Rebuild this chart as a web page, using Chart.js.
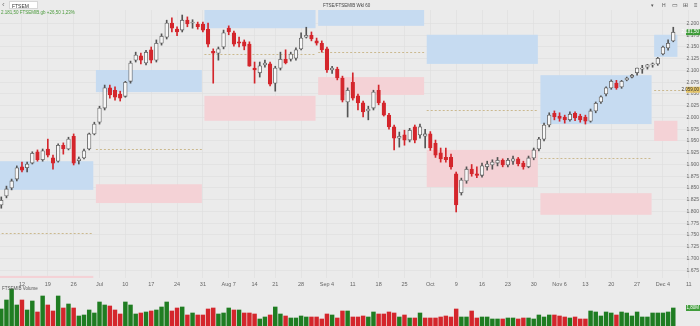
<!DOCTYPE html>
<html>
<head>
<meta charset="utf-8">
<script src="https://cdn.jsdelivr.net/npm/chart.js@4.4.0/dist/chart.umd.min.js"></script>
<style>
body{margin:0;width:700px;height:326px;overflow:hidden;background:#ebebeb;font-family:"Liberation Sans",Arial,sans-serif;position:relative}
canvas{position:absolute;left:0}
#chartPrix{top:0}
#chartVolume{top:286px}
.t{position:absolute;white-space:nowrap;line-height:1}
</style>
</head>
<body>
<canvas id="chartPrix" width="700" height="288"></canvas>
<canvas id="chartVolume" width="700" height="40"></canvas>

<div class="t" style="left:2px;top:1px;font-size:8px;color:#777">&#8249;</div>
<div class="t" style="left:9px;top:1px;width:29px;height:8px;background:#fff;border:1px solid #d6d6d6;font-size:5px;color:#333;padding:2px 0 0 2px;box-sizing:border-box">FTSEM</div>
<div class="t" style="left:1px;top:11px;font-size:4.5px;color:#4b9a3c">2.181,50 FTSEMIB.gb +26,50 1,23%</div>
<div class="t" style="left:323px;top:4px;font-size:4.5px;color:#444">FTSE/FTSEMIB Wkl 60</div>
<div class="t" style="left:651px;top:3px;font-size:5px;color:#555">&#9662;</div>
<div class="t" style="left:662px;top:3px;font-size:5px;color:#555">H</div>
<div class="t" style="left:672px;top:2px;font-size:6px;color:#555">&#9645;</div>
<div class="t" style="left:683px;top:2px;font-size:6px;color:#555">&#8862;</div>
<div class="t" style="left:694px;top:2px;font-size:6px;color:#555">&#8801;</div>
<div class="t" style="left:2px;top:287px;font-size:4.5px;color:#555">FTSEMIB Volume</div>

<script>
// données (un jour de bourse par index, du 6 juin au 6 décembre)
const ouverture = [1814,1833,1850,1869,1895,1893,1903,1927,1910,1933,
    1914,1907,1941,1933,1960,1908,1914,1933,1965,1990,
    2020,2063,2058,2050,2045,2077,2122,2131,2116,2144,
    2122,2158,2171,2201,2188,2186,2207,2201,2199,2199,
    2188,2141,2137,2150,2190,2180,2161,2161,2156,2105,
    2095,2112,2114,2073,2105,2124,2124,2126,2146,2171,
    2175,2163,2158,2146,2101,2103,2084,2033,2075,2046,
    2031,2014,2020,2058,2031,2005,1980,1956,1963,1952,
    1980,1963,1960,1965,1945,1925,1915,1915,1880,1840,
    1865,1890,1880,1877,1895,1899,1903,1909,1899,1907,
    1912,1903,1895,1914,1933,1954,1984,2009,2003,2001,
    1995,2009,2003,2001,1992,2014,2033,2050,2063,2073,
    2065,2080,2086,2095,2103,2107,2112,2114,2135,2148,2163]
const haut = [1831,1854,1869,1897,1905,1905,1927,1931,1933,1954,
    1920,1944,1946,1958,1965,1916,1933,1967,1990,2024,
    2069,2069,2065,2056,2077,2120,2139,2137,2143,2150,
    2165,2178,2207,2212,2193,2218,2214,2208,2203,2203,
    2201,2146,2150,2186,2195,2184,2171,2165,2161,2118,
    2118,2122,2118,2109,2139,2144,2139,2148,2180,2192,
    2182,2169,2163,2150,2109,2107,2088,2063,2095,2050,
    2035,2024,2058,2069,2035,2009,1984,1969,1973,1977,
    1984,1986,1975,1970,1952,1935,1935,1922,1884,1871,
    1895,1900,1895,1903,1907,1910,1915,1912,1913,1918,
    1915,1907,1918,1935,1958,1988,2010,2014,2010,2005,
    2012,2012,2007,2005,2018,2033,2046,2065,2080,2079,
    2079,2086,2092,2105,2111,2113,2116,2128,2152,2165,2192]
const bas = [1807,1829,1846,1865,1884,1884,1901,1907,1907,1916,
    1890,1905,1922,1931,1899,1901,1912,1931,1963,1986,
    2016,2041,2037,2035,2043,2073,2118,2114,2112,2116,
    2118,2154,2167,2182,2174,2182,2193,2190,2188,2182,
    2150,2073,2122,2146,2176,2152,2150,2144,2109,2073,
    2086,2107,2067,2056,2101,2114,2120,2122,2144,2169,
    2163,2154,2139,2096,2094,2080,2033,2001,2037,2016,
    2001,1995,2016,2027,2003,1975,1931,1937,1941,1948,
    1946,1956,1935,1930,1915,1905,1905,1890,1799,1835,
    1860,1875,1872,1873,1888,1890,1897,1895,1895,1900,
    1897,1890,1893,1910,1929,1950,1980,1995,1992,1988,
    1992,1993,1990,1986,1990,2010,2030,2046,2060,2060,
    2062,2078,2084,2090,2094,2103,2107,2111,2133,2143,2161]
const cloture = [1824,1848,1865,1893,1888,1901,1924,1910,1929,1920,
    1903,1941,1933,1954,1903,1912,1929,1965,1986,2020,
    2063,2048,2043,2041,2075,2116,2133,2122,2139,2122,
    2158,2173,2201,2190,2182,2207,2199,2203,2193,2186,
    2156,2137,2146,2180,2182,2156,2158,2152,2109,2101,
    2110,2116,2071,2105,2124,2116,2135,2144,2169,2175,
    2167,2158,2144,2101,2105,2084,2037,2058,2041,2031,
    2012,2018,2054,2031,2005,1980,1956,1960,1952,1973,
    1952,1980,1965,1935,1920,1912,1910,1895,1814,1867,
    1890,1880,1877,1897,1901,1905,1909,1899,1909,1912,
    1901,1895,1914,1931,1954,1984,2005,2001,1998,1995,
    2007,1999,1995,1992,2014,2030,2044,2063,2077,2063,
    2077,2084,2090,2105,2105,2112,2114,2126,2150,2158,2181.5]
// volumes en millions
const volume = [1.7,2.6,3.7,2.1,2.6,1.6,2.5,1.4,3.0,2.1,
    1.5,3.0,1.8,2.2,1.8,1.0,1.1,1.6,1.3,2.4,
    2.1,2.0,1.6,1.2,2.4,2.1,1.2,1.3,1.4,1.5,
    1.6,1.9,2.4,1.5,1.8,1.9,1.1,1.3,1.1,1.1,
    1.7,1.8,1.2,1.3,1.8,1.6,1.6,1.3,1.3,1.2,
    0.7,0.9,1.1,1.9,1.2,1.0,0.8,0.8,1.0,0.9,
    0.9,0.9,0.7,1.2,1.1,0.8,1.5,1.5,0.9,0.9,
    1.0,0.9,1.4,1.2,1.2,1.4,1.3,0.9,1.1,0.8,
    0.8,1.3,0.8,0.8,0.8,0.9,1.0,0.9,1.7,0.9,
    0.9,1.5,0.8,0.9,0.9,0.7,0.7,0.7,0.8,0.8,
    0.7,0.8,0.8,0.7,1.1,0.9,1.1,1.1,1.0,0.9,
    0.8,0.9,0.7,0.7,1.5,1.4,1.0,1.4,1.3,1.1,
    1.4,1.3,1.0,1.4,0.9,0.9,1.3,1.3,1.3,1.4,1.8]

// lundis (index du jour) et leurs étiquettes
const ticksIndex = [4,9,14,19,24,29,34,39,44,49,53,58,63,68,73,78,83,88,93,98,103,108,113,118,123,128,133]
const ticksLabels = ['12','19','26','Jul','10','17','24','31','Aug 7','14','21','28','Sep 4','11','18','25','Oct','9','16','23','30','Nov 6','13','20','27','Dec 4','11']
const graduationsPrix = [1675,1700,1725,1750,1775,1800,1825,1850,1875,1900,1925,1950,1975,2000,2025,2050,2075,2100,2125,2150,2175,2200]

// zones mensuelles
const debutMois = [0,19,40,62,83,105,127]
const finMois = [18,39,61,82,104,126,131]
const bleuHaut = [1907,2101,2240,2240,2176,2090,2176]
const bleuBas = [1846,2054,2190,2195,2114,1986,2129]
const roseHaut = [1663,1858,2046,2086,1931,1839,1993]
const roseBas = [1600,1818,1993,2048,1852,1793,1950]
const pivot = [1754,1933,2135,2139,2016,1914,2059]

const ROUGE = '#d4262c'
const VERT = '#1f7d22'

function formatPrix(v, dec){
    const ent = Math.floor(v)
    let s = Math.floor(ent/1000) + '.' + String(ent%1000).padStart(3,'0')
    if (dec) s += ',' + String(Math.round((v-ent)*100)).padStart(2,'0')
    return s
}

const jours = cloture.map((c,i) => i)
const hausse = jours.map(i => cloture[i] >= ouverture[i])

const zonesPlugin = {
    id: 'zones',
    beforeDatasetsDraw(chart){
        const {ctx, chartArea, scales: {x, y}} = chart
        ctx.save()
        ctx.beginPath()
        ctx.rect(chartArea.left, chartArea.top, chartArea.width, chartArea.height)
        ctx.clip()
        for (let m = 0; m < debutMois.length; m++){
            const x1 = x.getPixelForValue(debutMois[m] - 0.7)
            const x2 = x.getPixelForValue(finMois[m] - 0.2)
            ctx.fillStyle = '#c6dbf1'
            ctx.fillRect(x1, y.getPixelForValue(bleuHaut[m]), x2-x1, y.getPixelForValue(bleuBas[m]) - y.getPixelForValue(bleuHaut[m]))
            ctx.fillStyle = '#f4d2d6'
            ctx.fillRect(x1, y.getPixelForValue(roseHaut[m]), x2-x1, y.getPixelForValue(roseBas[m]) - y.getPixelForValue(roseHaut[m]))
            const yp = Math.round(y.getPixelForValue(pivot[m])) + 0.5
            const xf = m === debutMois.length-1 ? chartArea.right : x2
            ctx.strokeStyle = '#c3ad78'
            ctx.lineWidth = 0.8
            ctx.setLineDash([2,2])
            ctx.beginPath()
            ctx.moveTo(x1, yp)
            ctx.lineTo(xf, yp)
            ctx.stroke()
        }
        ctx.restore()
    },
    afterDraw(chart){
        const {ctx, chartArea, scales: {y}} = chart
        const etiquette = (v, fond, texte) => {
            const yy = y.getPixelForValue(v)
            ctx.fillStyle = fond
            ctx.fillRect(chartArea.right - 14, yy - 3, 14, 6)
            ctx.fillStyle = texte
            ctx.font = '4.5px "Liberation Sans"'
            ctx.textAlign = 'right'
            ctx.textBaseline = 'middle'
            ctx.fillText(formatPrix(v, true), chartArea.right - 1, yy)
        }
        etiquette(pivot[pivot.length-1], '#e6c66a', '#333')
        etiquette(cloture[cloture.length-1], '#3f9c3a', '#fff')
    }
}

// setup
const dataPrix = {
    datasets: [{
        data: jours.map(i => ({x: i, y: [bas[i], haut[i]]})),
        backgroundColor: jours.map(i => hausse[i] ? '#555' : ROUGE),
        barThickness: 1,
        grouped: false,
        order: 2
    },{
        data: jours.map(i => ({x: i, y: [ouverture[i], cloture[i]]})),
        backgroundColor: jours.map(i => hausse[i] ? '#f7f7f7' : ROUGE),
        borderColor: jours.map(i => hausse[i] ? '#5a5a5a' : ROUGE),
        borderWidth: 0.8,
        borderSkipped: false,
        minBarLength: 1,
        barThickness: 3.6,
        grouped: false,
        order: 1
    }]
}

// config
const configPrix = {
    type: 'bar',
    data: dataPrix,
    plugins: [zonesPlugin],
    options: {
        responsive: false,
        animation: false,
        layout: {padding: {top: 10}},
        plugins: {legend: {display: false}, tooltip: {enabled: false}},
        scales: {
            x: {
                type: 'linear', min: -0.25, max: 135.17, offset: false,
                afterBuildTicks: s => { s.ticks = ticksIndex.map(v => ({value: v})) },
                afterFit: s => { s.height = 10 },
                grid: {color: '#dddddd', lineWidth: 0.6, drawTicks: false, offset: false},
                border: {display: false},
                ticks: {autoSkip: false, maxRotation: 0, padding: 3, color: '#666',
                    font: {size: 5.5, family: 'Liberation Sans'},
                    callback: (v, i) => ticksLabels[i]}
            },
            y: {
                position: 'right', min: 1658.5, max: 2228.7,
                afterBuildTicks: s => { s.ticks = graduationsPrix.map(v => ({value: v})) },
                afterFit: s => { s.width = 0 },
                grid: {color: '#dddddd', lineWidth: 0.6, drawTicks: false},
                border: {display: false},
                ticks: {mirror: true, padding: -1, color: '#666',
                    font: {size: 5, family: 'Liberation Sans'},
                    callback: v => formatPrix(v)}
            }
        }
    }
}

const chartPrix = new Chart(document.getElementById('chartPrix'), configPrix)

// volumes
const volumePlugin = {
    id: 'etiquetteVolume',
    afterDraw(chart){
        const {ctx, chartArea, scales: {y}} = chart
        const v = volume[volume.length-1]
        const yy = y.getPixelForValue(v)
        ctx.fillStyle = '#3f9c3a'
        ctx.fillRect(chartArea.right - 14, yy - 3, 14, 6)
        ctx.fillStyle = '#fff'
        ctx.font = '4.5px "Liberation Sans"'
        ctx.textAlign = 'right'
        ctx.textBaseline = 'middle'
        ctx.fillText(v.toFixed(2).replace('.', ',') + 'M', chartArea.right - 1, yy)
    }
}

const configVolume = {
    type: 'bar',
    data: {
        datasets: [{
            data: jours.map(i => ({x: i, y: volume[i]})),
            backgroundColor: jours.map(i => (i === 0 || cloture[i] >= cloture[i-1]) ? VERT : ROUGE),
            barThickness: 3.8
        }]
    },
    plugins: [volumePlugin],
    options: {
        responsive: false,
        animation: false,
        plugins: {legend: {display: false}, tooltip: {enabled: false}},
        scales: {
            x: {type: 'linear', min: -0.25, max: 135.17, offset: false, display: false},
            y: {min: 0, max: 4, display: false}
        }
    }
}

const chartVolume = new Chart(document.getElementById('chartVolume'), configVolume)
</script>
</body>
</html>
